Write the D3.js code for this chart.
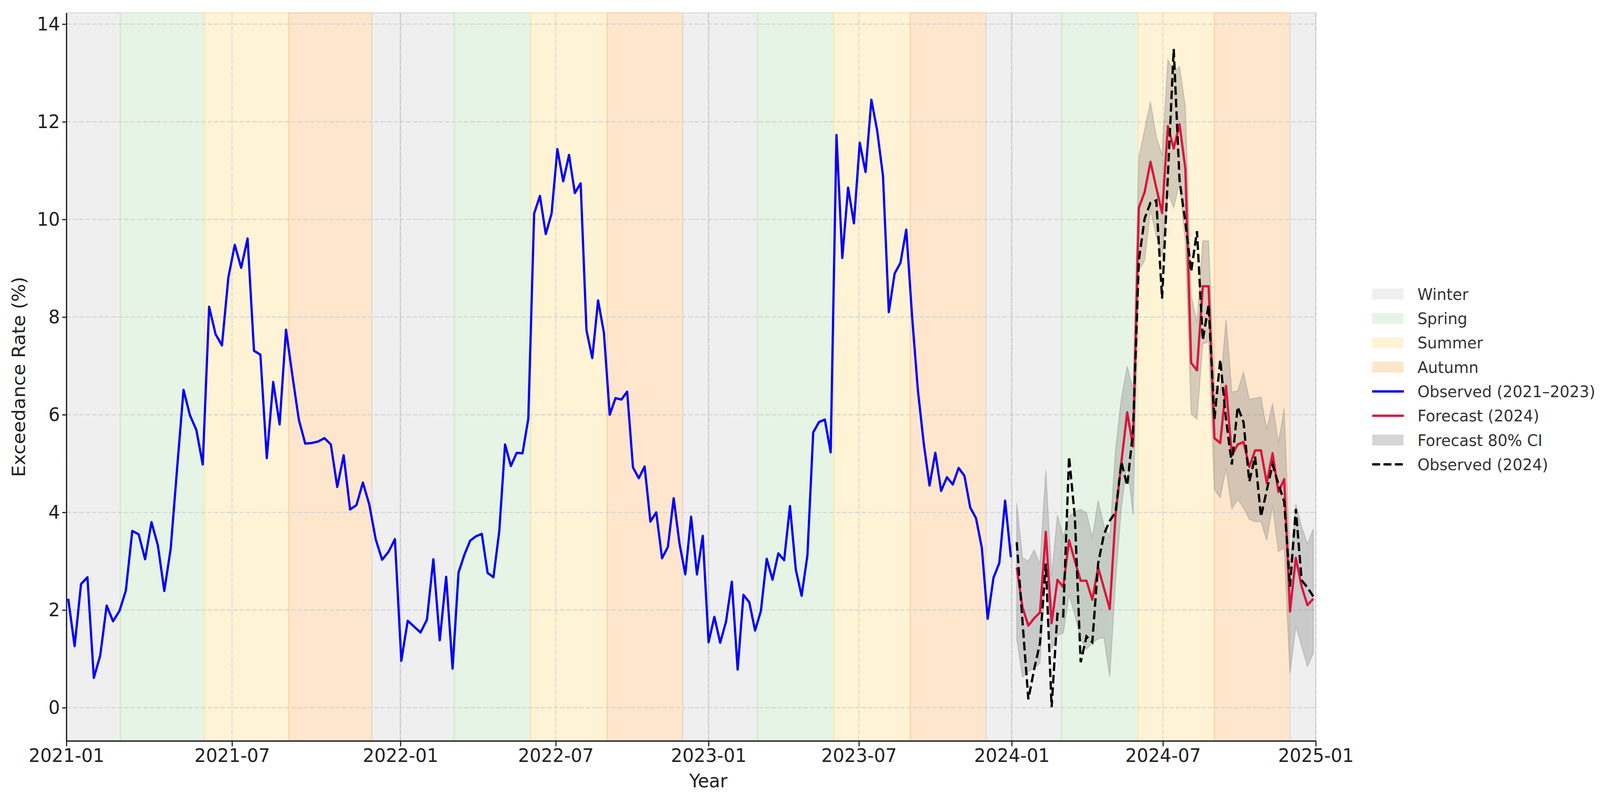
<!DOCTYPE html>
<html>
<head>
<meta charset="utf-8">
<script src="https://cdn.jsdelivr.net/npm/d3@7"></script>
<style>
  html, body { margin: 0; padding: 0; background: #fff; overflow: hidden; }
  svg { display: block; width: 100vw; height: 100vh; font-family: "DejaVu Sans", sans-serif; }
</style>
</head>
<body>
<svg id="chart"></svg>
<script>
// weekly observed exceedance rate (%), one value per Sunday
const obs2021 = [2.23, 1.26, 2.53, 2.67, 0.61, 1.07, 2.09, 1.77, 1.98, 2.40, 3.62, 3.55, 3.04, 3.80, 3.32, 2.39, 3.26, 4.90,
  6.51, 5.99, 5.69, 4.98, 8.21, 7.65, 7.42, 8.81, 9.48, 9.01, 9.61, 7.31, 7.23, 5.11, 6.67, 5.80, 7.74, 6.80, 5.90, 5.41,
  5.42, 5.45, 5.52, 5.39, 4.52, 5.17, 4.06, 4.15, 4.61, 4.16, 3.45, 3.03, 3.19, 3.45, 0.96];
const obs2022 = [1.78, 1.66, 1.54, 1.80, 3.04, 1.38, 2.68, 0.80, 2.77, 3.13, 3.42, 3.51, 3.56, 2.76, 2.67, 3.61, 5.39, 4.95,
  5.22, 5.21, 5.92, 10.12, 10.48, 9.70, 10.12, 11.44, 10.78, 11.32, 10.54, 10.74, 7.73, 7.16, 8.34, 7.68, 6.00, 6.34, 6.31,
  6.47, 4.92, 4.70, 4.94, 3.81, 4.00, 3.06, 3.29, 4.29, 3.36, 2.73, 3.91, 2.73, 3.52, 1.34];
const obs2023 = [1.86, 1.33, 1.76, 2.58, 0.78, 2.31, 2.16, 1.58, 1.98, 3.05, 2.62, 3.16, 3.02, 4.13, 2.83, 2.29, 3.12, 5.64,
  5.85, 5.90, 5.23, 11.73, 9.21, 10.65, 9.92, 11.57, 10.97, 12.45, 11.82, 10.89, 8.10, 8.89, 9.11, 9.79, 8.02, 6.50, 5.42,
  4.55, 5.22, 4.44, 4.72, 4.57, 4.91, 4.75, 4.10, 3.88, 3.27, 1.82, 2.66, 2.96, 4.24, 3.08];

// 2024: forecast, 80% interval and what was observed
const forecast2024 = [2.87, 2.05, 1.68, 1.83, 1.95, 3.60, 1.73, 2.62, 2.47, 3.43, 3.00, 2.60, 2.60, 2.21, 2.87, 2.45, 2.02,
  3.95, 5.03, 6.05, 5.35, 10.24, 10.56, 11.18, 10.65, 10.13, 11.91, 11.45, 11.95, 11.04, 7.06, 6.91, 8.63, 8.63, 5.52, 5.42,
  6.59, 5.16, 5.39, 5.44, 4.93, 5.27, 5.27, 4.60, 5.21, 4.42, 4.68, 1.97, 3.07, 2.48, 2.10, 2.23];
const ciLow2024 = [1.41, 0.63, 0.74, 0.81, 0.91, 2.93, 1.20, 1.48, 1.53, 2.31, 1.89, 1.39, 1.20, 1.32, 1.41, 1.43, 0.63,
  2.60, 4.10, 5.00, 3.95, 8.95, 9.16, 10.20, 9.66, 9.24, 10.52, 10.24, 10.74, 9.52, 6.02, 5.91, 7.45, 7.49, 4.47, 4.30,
  4.90, 4.07, 4.27, 4.09, 3.86, 3.81, 3.81, 3.43, 4.14, 3.20, 3.28, 0.70, 1.67, 1.26, 0.85, 1.11];
const ciHigh2024 = [4.19, 3.07, 3.00, 3.23, 2.93, 4.86, 2.70, 3.94, 3.50, 3.92, 4.01, 4.06, 3.99, 3.48, 4.24, 3.73, 3.50,
  5.30, 6.34, 6.99, 6.52, 11.27, 11.84, 12.41, 11.70, 11.31, 13.27, 13.02, 13.13, 12.31, 8.45, 7.88, 9.56, 9.56, 6.60, 6.50,
  7.95, 6.46, 6.49, 6.87, 6.31, 6.34, 6.36, 5.70, 6.23, 5.42, 6.13, 2.90, 4.17, 3.71, 3.35, 3.66];
const obs2024 = [3.39, 1.75, 0.17, 0.79, 1.32, 2.95, 0.01, 1.92, 1.87, 5.14, 3.90, 0.93, 1.46, 1.34, 2.95, 3.55, 3.83,
  4.00, 5.03, 4.55, 5.66, 9.16, 10.02, 10.34, 10.39, 8.38, 10.90, 13.49, 10.80, 9.95, 8.93, 9.76, 7.53, 8.25, 5.90, 7.13,
  5.90, 4.98, 6.16, 5.85, 4.63, 5.14, 3.91, 4.45, 4.98, 4.58, 4.22, 2.48, 4.07, 2.61, 2.46, 2.28];

const yTicks = [0, 2, 4, 6, 8, 10, 12, 14];
const seasonStartMonths = [0, 2, 5, 8, 11];   // Jan, Mar, Jun, Sep, Dec
const seasonOfSpan = ["Winter", "Spring", "Summer", "Autumn", "Winter"];
const years = [2021, 2022, 2023, 2024];

const seasonFill = { Winter: "#efefef", Spring: "#e6f4e5", Summer: "#fff3d5", Autumn: "#fee6cc" };
const seasonEdge = { Winter: "#dcdcdc", Spring: "#d2e9d1", Summer: "#fbe6ae", Autumn: "#fbd3a5" };

const width = 4242;
const height = 2051;
const margin = { top: 33, right: 753.6, bottom: 154, left: 176 };
const innerWidth = width - margin.left - margin.right;
const innerHeight = height - margin.top - margin.bottom;

// dates
const obsDates = d3.utcSunday.range(Date.UTC(2021, 0, 1), Date.UTC(2024, 0, 1));
const fcDates = d3.utcSunday.range(Date.UTC(2024, 0, 1), Date.UTC(2025, 0, 1));
const obsValues = obs2021.concat(obs2022, obs2023);
const observed = obsDates.map((d, i) => ({ date: d, v: obsValues[i] }));
const fc = fcDates.map((d, i) => ({ date: d, f: forecast2024[i], lo: ciLow2024[i], hi: ciHigh2024[i], o: obs2024[i] }));

const bands = [];
years.forEach(yr => {
    for (let s = 0; s < 5; s++) {
        const start = new Date(Date.UTC(yr, seasonStartMonths[s], 1));
        const end = s < 4 ? new Date(Date.UTC(yr, seasonStartMonths[s + 1], 1)) : new Date(Date.UTC(yr + 1, 0, 1));
        bands.push({ start, end, season: seasonOfSpan[s] });
    }
});

// the time axis of the source is wider over Jan 2021 - Feb 2022
const xScale = d3.scaleUtc()
    .domain([new Date(Date.UTC(2021, 0, 1)), new Date(Date.UTC(2022, 2, 1)), new Date(Date.UTC(2025, 0, 1))])
    .range([0, 1028.7, innerWidth]);

const yScale = d3.scaleLinear()
    .domain([-0.68, 14.23])
    .range([innerHeight, 0]);

const svg = d3.select("#chart")
    .attr("viewBox", `0 0 ${width} ${height}`)
    .attr("preserveAspectRatio", "none");

const g = svg.append("g")
    .attr("transform", `translate(${margin.left},${margin.top})`);

// season background
g.selectAll("rect.band")
    .data(bands)
    .enter()
    .append("rect")
    .attr("class", "band")
    .attr("x", d => xScale(d.start))
    .attr("width", d => xScale(d.end) - xScale(d.start))
    .attr("y", 0)
    .attr("height", innerHeight)
    .attr("fill", d => seasonFill[d.season])
    .attr("stroke", d => seasonEdge[d.season])
    .attr("stroke-width", 3);

const xTickDates = d3.utcMonth.every(6).range(new Date(Date.UTC(2021, 0, 1)), new Date(Date.UTC(2025, 0, 2)));

// grid
g.selectAll("line.hgrid")
    .data(yTicks)
    .enter()
    .append("line")
    .attr("x1", 0).attr("x2", innerWidth)
    .attr("y1", d => yScale(d)).attr("y2", d => yScale(d))
    .attr("stroke", "#d2d2d2")
    .attr("stroke-width", 2.5)
    .attr("stroke-dasharray", "12,5");

g.selectAll("line.vgrid")
    .data(xTickDates)
    .enter()
    .append("line")
    .attr("x1", d => xScale(d)).attr("x2", d => xScale(d))
    .attr("y1", 0).attr("y2", innerHeight)
    .attr("stroke", d => d.getUTCMonth() === 0 ? "#c6c6c6" : "#d6d6d6")
    .attr("stroke-width", 2.5)
    .attr("stroke-dasharray", "12,5");

// forecast interval
const area = d3.area()
    .x(d => xScale(d.date))
    .y0(d => yScale(d.lo))
    .y1(d => yScale(d.hi));

g.append("path")
    .datum(fc)
    .attr("d", area)
    .attr("fill", "#808080")
    .attr("fill-opacity", 0.33)
    .attr("stroke", "#808080")
    .attr("stroke-opacity", 0.3)
    .attr("stroke-width", 3);

const line = d3.line()
    .x(d => xScale(d.date))
    .y(d => yScale(d.value));

g.append("path")
    .datum(observed.map(d => ({ date: d.date, value: d.v })))
    .attr("d", line)
    .attr("fill", "none")
    .attr("stroke", "#0000ff")
    .attr("stroke-width", 6)
    .attr("stroke-linejoin", "round");

g.append("path")
    .datum(fc.map(d => ({ date: d.date, value: d.f })))
    .attr("d", line)
    .attr("fill", "none")
    .attr("stroke", "#dc143c")
    .attr("stroke-width", 6)
    .attr("stroke-linejoin", "round");

g.append("path")
    .datum(fc.map(d => ({ date: d.date, value: d.o })))
    .attr("d", line)
    .attr("fill", "none")
    .attr("stroke", "#000")
    .attr("stroke-width", 6)
    .attr("stroke-dasharray", "22,10");

// axes
const xAxis = d3.axisBottom(xScale)
    .tickValues(xTickDates)
    .tickFormat(d3.utcFormat("%Y-%m"))
    .tickSize(14)
    .tickSizeOuter(0)
    .tickPadding(6);

const yAxis = d3.axisLeft(yScale)
    .tickValues(yTicks)
    .tickSize(11)
    .tickSizeOuter(0)
    .tickPadding(6);

const gx = g.append("g")
    .attr("transform", `translate(0,${innerHeight})`)
    .call(xAxis);

const gy = g.append("g")
    .call(yAxis);

[gx, gy].forEach(ax => {
    ax.select(".domain").attr("stroke", "#222").attr("stroke-width", 3.3);
    ax.selectAll(".tick line").attr("stroke", "#222").attr("stroke-width", 3);
    ax.selectAll(".tick text")
        .attr("fill", "#222")
        .style("font-size", "48px")
        .style("font-family", "DejaVu Sans, sans-serif");
});

svg.append("text")
    .attr("x", 1878)
    .attr("y", 2016)
    .attr("text-anchor", "middle")
    .attr("fill", "#222")
    .style("font-size", "48px")
    .text("Year");

svg.append("text")
    .attr("transform", "translate(66,965) rotate(-90)")
    .attr("text-anchor", "middle")
    .attr("fill", "#222")
    .style("font-size", "48px")
    .text("Exceedance Rate (%)");

// legend
const legendItems = [
    { label: "Winter", type: "patch", color: seasonFill.Winter },
    { label: "Spring", type: "patch", color: seasonFill.Spring },
    { label: "Summer", type: "patch", color: seasonFill.Summer },
    { label: "Autumn", type: "patch", color: seasonFill.Autumn },
    { label: "Observed (2021\u20132023)", type: "line", color: "#0000ff" },
    { label: "Forecast (2024)", type: "line", color: "#dc143c" },
    { label: "Forecast 80% CI", type: "patch", color: "#d5d5d5" },
    { label: "Observed (2024)", type: "dash", color: "#000" }
];

const legend = svg.append("g")
    .attr("transform", "translate(3638,753)");

const rows = legend.selectAll("g")
    .data(legendItems)
    .enter()
    .append("g")
    .attr("transform", (d, i) => `translate(0,${i * 62.3})`);

rows.filter(d => d.type === "patch")
    .append("rect")
    .attr("x", 0).attr("y", -14)
    .attr("width", 83).attr("height", 28)
    .attr("fill", d => d.color);

rows.filter(d => d.type !== "patch")
    .append("line")
    .attr("x1", 0).attr("x2", 84)
    .attr("y1", 0).attr("y2", 0)
    .attr("stroke", d => d.color)
    .attr("stroke-width", 6)
    .attr("stroke-dasharray", d => d.type === "dash" ? "21,9" : null);

rows.append("text")
    .attr("x", 120)
    .attr("dy", "0.36em")
    .attr("fill", "#333")
    .style("font-size", "41px")
    .text(d => d.label);
</script>
</body>
</html>
